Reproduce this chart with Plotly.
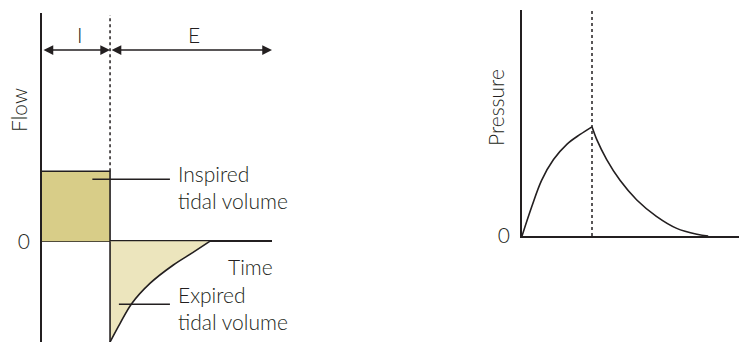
import plotly.graph_objects as go

# Flow panel (time in units of inspiratory time, flow in units of inspiratory flow)
insp_t = [0, 1, 1]
insp_flow = [1, 1, 0]
exp_t = [1.0, 1.15, 1.32, 1.59, 1.93, 2.22, 2.47]
exp_flow = [-1.44, -1.17, -0.89, -0.60, -0.34, -0.16, 0]
t_end_flow = 3.38

# Pressure panel
press_t = [0, 0.14, 0.28, 0.45, 0.64, 0.83, 1.0, 1.07, 1.21, 1.40, 1.64, 1.92, 2.21, 2.50, 2.66]
press = [0, 0.27, 0.51, 0.70, 0.84, 0.93, 1.0, 0.88, 0.70, 0.51, 0.33, 0.18, 0.07, 0.016, 0]

W, H = 739, 342
INK = "#231f20"
FONT = dict(family="Lato", size=21, color=INK, weight=300)

fig = go.Figure()

# inspired volume (box)
fig.add_trace(go.Scatter(x=insp_t[:2], y=insp_flow[:2], fill="tozeroy", fillcolor="#d8cd88",
                         mode="lines", line=dict(width=0), xaxis="x", yaxis="y"))
fig.add_trace(go.Scatter(x=insp_t, y=insp_flow, mode="lines", line=dict(color=INK, width=1.6),
                         xaxis="x", yaxis="y"))
# expired volume
fig.add_trace(go.Scatter(x=exp_t, y=exp_flow, fill="tozeroy", fillcolor="#ece5bd",
                         mode="lines", line=dict(color=INK, width=1.6, shape="spline"),
                         xaxis="x", yaxis="y"))
fig.add_trace(go.Scatter(x=[1, 1], y=[0, exp_flow[0]], mode="lines",
                         line=dict(color=INK, width=1.6), xaxis="x", yaxis="y"))

# pressure curve
fig.add_trace(go.Scatter(x=press_t[:7], y=press[:7], mode="lines",
                         line=dict(color=INK, width=1.6, shape="spline"), xaxis="x2", yaxis="y2"))
fig.add_trace(go.Scatter(x=press_t[6:], y=press[6:], mode="lines",
                         line=dict(color=INK, width=1.6, shape="spline"), xaxis="x2", yaxis="y2"))

# dotted end-of-inspiration lines
fig.add_shape(type="line", xref="x", yref="y", x0=1, x1=1, y0=1, y1=3.23,
              line=dict(color=INK, width=1.5, dash="dot"))
fig.add_shape(type="line", xref="x2", yref="y2", x0=1, x1=1, y0=0, y1=2.07,
              line=dict(color=INK, width=1.5, dash="dot"))

# I / E arrows
arrow_y = 2.73
for a, b, lab in [(0, 1, "I"), (1, t_end_flow, "E")]:
    fig.add_annotation(x=b, y=arrow_y, ax=a, ay=arrow_y, xref="x", yref="y", axref="x", ayref="y",
                       text="", showarrow=True, arrowhead=2, startarrowhead=2, arrowside="end+start",
                       arrowsize=1.3, startarrowsize=1.3, arrowwidth=1.5, arrowcolor=INK)
    fig.add_annotation(x=(a + b) / 2 + 0.05, y=2.95, xref="x", yref="y", text=lab,
                       showarrow=False, font=FONT)

# leader lines and labels
fig.add_shape(type="line", xref="x", yref="y", x0=0.74, x1=1.88, y0=0.886, y1=0.886,
              line=dict(color=INK, width=1.4))
fig.add_shape(type="line", xref="x", yref="y", x0=1.13, x1=1.88, y0=-0.9, y1=-0.9,
              line=dict(color=INK, width=1.4))
fig.add_annotation(x=1.97, y=0.77, xref="x", yref="y", text="Inspired<br>tidal volume",
                   showarrow=False, xanchor="left", align="left", font=FONT)
fig.add_annotation(x=1.97, y=-0.96, xref="x", yref="y", text="Expired<br>tidal volume",
                   showarrow=False, xanchor="left", align="left", font=FONT)
fig.add_annotation(x=3.06, y=-0.36, xref="x", yref="y", text="Time", showarrow=False, font=FONT)
fig.add_annotation(x=1.57, y=-0.19, xref="x2", yref="y2", text="Time", showarrow=False, font=FONT)
fig.add_annotation(x=18 / W, y=1 - 110 / H, xref="paper", yref="paper", text="Flow",
                   textangle=-90, showarrow=False, xanchor="center", yanchor="middle", font=FONT)
fig.add_annotation(x=495 / W, y=1 - 107 / H, xref="paper", yref="paper", text="Pressure",
                   textangle=-90, showarrow=False, xanchor="center", yanchor="middle", font=FONT)

fig.update_layout(
    width=W, height=H, margin=dict(l=0, r=0, t=0, b=0, pad=0, autoexpand=False),
    paper_bgcolor="white", plot_bgcolor="white", showlegend=False,
    xaxis=dict(domain=[42 / W, 272 / W], range=[0, t_end_flow], showgrid=False, zeroline=False,
               showline=False, showticklabels=False, anchor="y", automargin=False),
    yaxis=dict(domain=[0, 1 - 13 / H], range=[-1.44, 3.26], showgrid=False, zeroline=True,
               zerolinecolor=INK, zerolinewidth=1.6, showline=True, linecolor=INK, linewidth=1.6,
               tickvals=[0], ticktext=["0"], ticks="", ticklabelstandoff=6, tickfont=FONT,
               anchor="x", automargin=False),
    xaxis2=dict(domain=[522 / W, 1], range=[0, 3.1], showgrid=False, zeroline=False,
                showline=True, linecolor=INK, linewidth=1.6, showticklabels=False, anchor="y2",
                automargin=False),
    yaxis2=dict(domain=[1 - 236 / H, 1 - 10 / H], range=[0, 2.07], showgrid=False, zeroline=False,
                showline=True, linecolor=INK, linewidth=1.6, tickvals=[0], ticktext=["0"],
                ticks="", ticklabelstandoff=6, tickfont=FONT, anchor="x2", automargin=False),
)

fig.write_html("out.html", config={"displayModeBar": False},
               post_script="document.body.style.margin='0';")
